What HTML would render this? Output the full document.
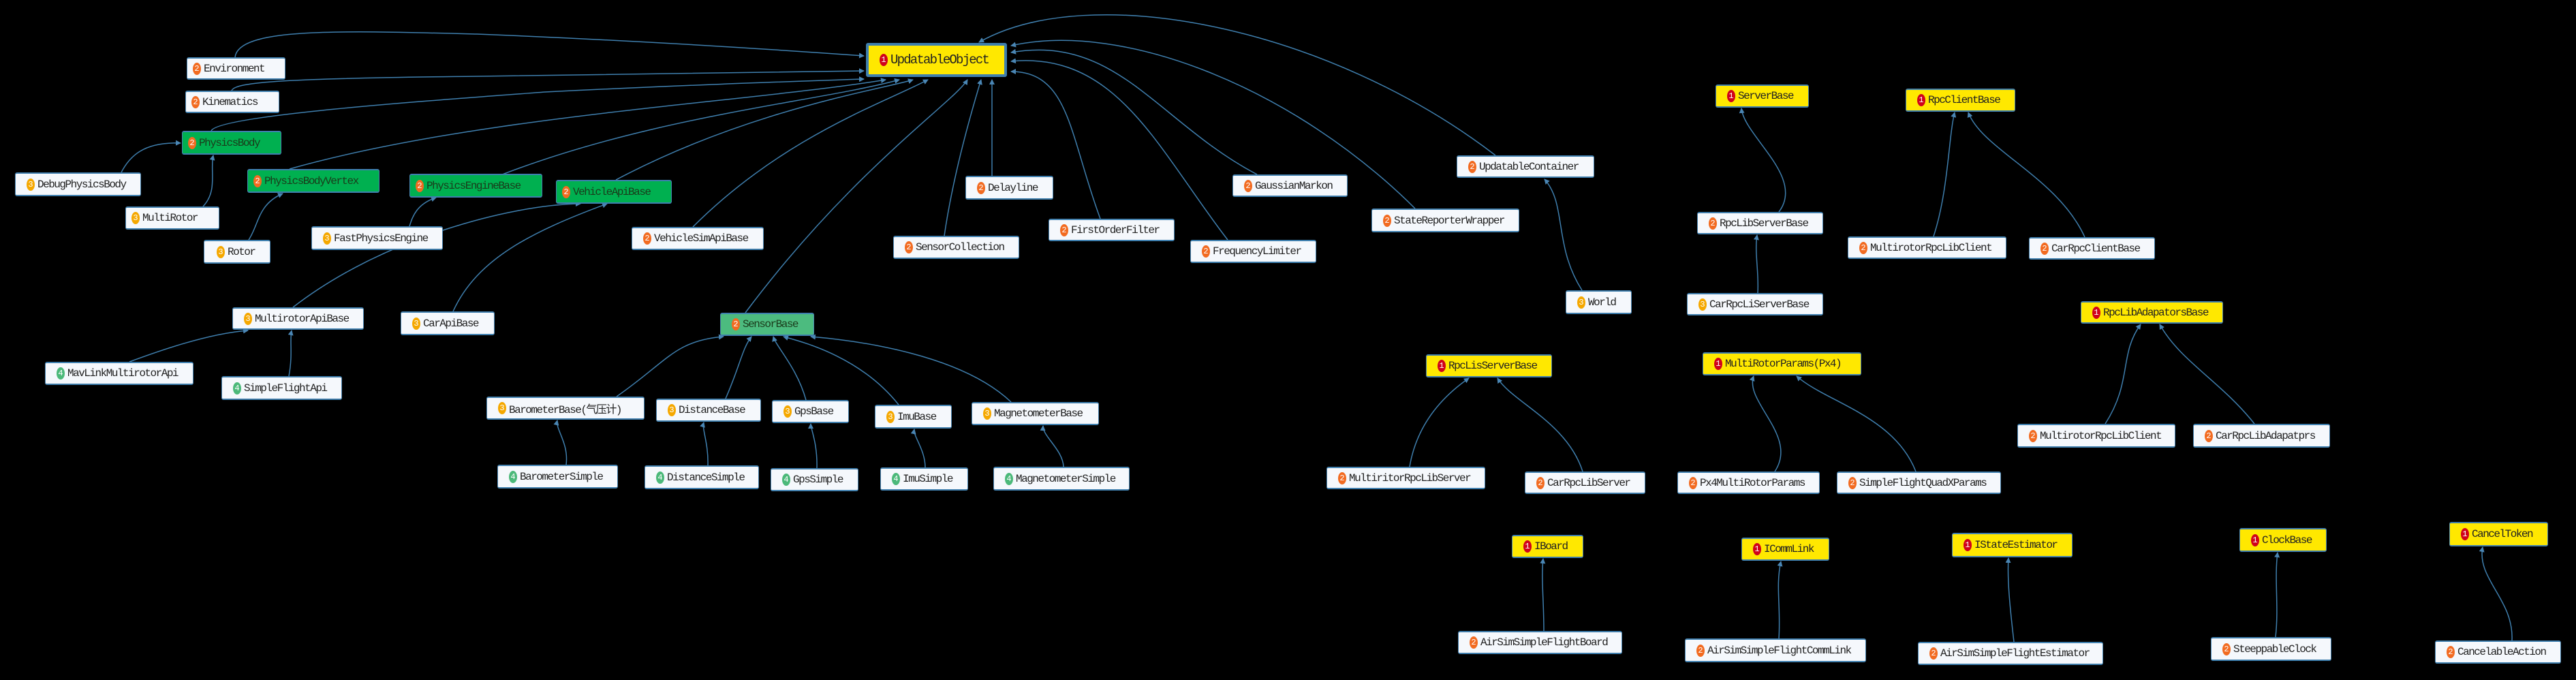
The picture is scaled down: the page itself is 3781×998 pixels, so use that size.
<!DOCTYPE html>
<html><head><meta charset="utf-8"><style>
html,body{margin:0;padding:0;background:#000;width:3781px;height:998px;overflow:hidden;position:relative}
svg{position:absolute;left:0;top:0}
.n{position:absolute;box-sizing:border-box;background:#f5f8fc;border:1px solid #4a86b4;border-bottom:2px solid #3f7fae;border-top:2px solid #3f7fae;border-radius:3px;display:flex;align-items:center;padding-left:8px;font-family:"Liberation Mono","Noto Sans CJK SC",monospace;font-size:16px;color:#222;white-space:nowrap;letter-spacing:-1.5px}
.y{background:#ffe800}
.g{background:#00b050;color:#1a3a1a}
.g2{background:#4cbb7f;color:#1a3a1a}
.b{display:inline-block;width:12px;height:18px;border-radius:50%;color:#fff;font-size:12px;line-height:18px;text-align:center;margin-right:4px;flex:none;letter-spacing:0}
.b1{background:#d0021b}.b2{background:#f26b21}.b3{background:#f5a800}.b4{background:#4cb97a}
</style></head><body>
<svg width="3781" height="998" viewBox="0 0 3781 998">
<defs><marker id="a" markerWidth="8" markerHeight="8" refX="7" refY="4" orient="auto" markerUnits="userSpaceOnUse"><path d="M0,0 L8,4 L0,8 z" fill="#4a86b4"/></marker></defs>
<g fill="none" stroke="#3f7fae" stroke-width="1.5" marker-end="url(#a)">
<path d="M345,84 C350,40 500,45 700,50 C900,58 1100,70 1268,82"/>
<path d="M340,133 C345,120 420,115 700,112 C900,110 1100,108 1268,104"/>
<path d="M310,192 C320,170 600,150 800,135 C1000,125 1150,120 1268,116"/>
<path d="M425,248 C700,170 1100,150 1300,117"/>
<path d="M717,264 C950,170 1200,150 1320,117"/>
<path d="M904,264 C1100,160 1300,130 1340,117"/>
<path d="M1017,333 C1150,200 1300,150 1362,117"/>
<path d="M1094,459 C1250,250 1400,150 1420,117"/>
<path d="M1386,346 C1400,250 1430,150 1440,117"/>
<path d="M1456,258 L1456,117"/>
<path d="M1615,321 C1570,200 1570,105 1484,105"/>
<path d="M1802,352 C1700,220 1640,75 1484,90"/>
<path d="M1845,256 C1700,180 1640,50 1484,77"/>
<path d="M2077,306 C1900,130 1650,30 1484,67"/>
<path d="M2195,228 C1950,40 1600,-30 1437,62"/>
<path d="M2322,426 C2280,360 2300,300 2267,263"/>
<path d="M178,253 C190,230 210,208 265,210"/>
<path d="M298,303 C320,280 308,250 313,228"/>
<path d="M365,352 C380,330 378,300 415,284"/>
<path d="M601,332 C605,320 610,300 640,290"/>
<path d="M430,451 C560,350 750,300 852,299"/>
<path d="M665,457 C700,380 780,340 891,299"/>
<path d="M190,531 C220,520 300,490 364,485"/>
<path d="M424,552 C430,520 425,500 428,485"/>
<path d="M905,582 C980,530 990,500 1062,494"/>
<path d="M1065,585 C1085,540 1090,510 1103,494"/>
<path d="M1183,587 C1170,540 1140,510 1135,494"/>
<path d="M1319,594 C1260,520 1170,500 1150,494"/>
<path d="M1484,590 C1410,520 1260,500 1190,494"/>
<path d="M831,682 C835,650 815,630 818,617"/>
<path d="M1039,683 C1040,650 1030,630 1033,620"/>
<path d="M1199,687 C1200,650 1190,630 1190,622"/>
<path d="M1358,686 C1358,660 1340,640 1342,630"/>
<path d="M1561,685 C1560,660 1530,640 1531,625"/>
<path d="M2611,311 C2650,260 2560,200 2556,159"/>
<path d="M2580,430 C2582,400 2575,370 2579,345"/>
<path d="M2838,347 C2860,280 2860,200 2869,165"/>
<path d="M3060,348 C3020,260 2910,220 2889,165"/>
<path d="M2069,685 C2080,620 2120,580 2156,555"/>
<path d="M2323,692 C2300,620 2220,590 2198,555"/>
<path d="M2605,692 C2640,640 2560,590 2574,552"/>
<path d="M2812,692 C2780,610 2680,590 2637,552"/>
<path d="M3090,622 C3130,560 3110,520 3142,476"/>
<path d="M3309,622 C3260,560 3200,530 3170,476"/>
<path d="M2266,926 C2266,880 2262,850 2265,820"/>
<path d="M2611,937 C2614,890 2606,860 2614,824"/>
<path d="M2956,942 C2950,890 2946,850 2948,819"/>
<path d="M3340,935 C3345,890 3338,850 3343,811"/>
<path d="M3687,940 C3690,880 3635,850 3644,803"/>
</g>
</svg>
<div class="n y" style="left:1271px;top:63px;width:207px;height:50px;border:4px solid #3f7fae;font-size:19px;letter-spacing:-1.8px;padding-left:16px"><span class="b b1">1</span>UpdatableObject</div>
<div class="n" style="left:274px;top:84px;width:145px;height:33px"><span class="b b2">2</span>Environment</div>
<div class="n" style="left:272px;top:133px;width:138px;height:33px"><span class="b b2">2</span>Kinematics</div>
<div class="n g" style="left:267px;top:192px;width:146px;height:35px"><span class="b b2">2</span>PhysicsBody</div>
<div class="n" style="left:22px;top:253px;width:185px;height:35px;padding-left:16px"><span class="b b3">3</span>DebugPhysicsBody</div>
<div class="n g" style="left:363px;top:248px;width:194px;height:35px"><span class="b b2">2</span>PhysicsBodyVertex</div>
<div class="n" style="left:184px;top:303px;width:138px;height:34px"><span class="b b3">3</span>MultiRotor</div>
<div class="n g" style="left:601px;top:255px;width:195px;height:35px"><span class="b b2">2</span>PhysicsEngineBase</div>
<div class="n g" style="left:816px;top:264px;width:170px;height:35px"><span class="b b2">2</span>VehicleApiBase</div>
<div class="n" style="left:299px;top:352px;width:98px;height:35px;padding-left:18px"><span class="b b3">3</span>Rotor</div>
<div class="n" style="left:457px;top:332px;width:193px;height:35px;padding-left:16px"><span class="b b3">3</span>FastPhysicsEngine</div>
<div class="n" style="left:927px;top:333px;width:194px;height:34px;padding-left:16px"><span class="b b2">2</span>VehicleSimApiBase</div>
<div class="n" style="left:341px;top:451px;width:193px;height:33px;padding-left:16px"><span class="b b3">3</span>MultirotorApiBase</div>
<div class="n" style="left:588px;top:457px;width:138px;height:35px;padding-left:16px"><span class="b b3">3</span>CarApiBase</div>
<div class="n g2" style="left:1057px;top:459px;width:138px;height:34px;padding-left:16px"><span class="b b2">2</span>SensorBase</div>
<div class="n" style="left:66px;top:531px;width:218px;height:34px;padding-left:16px"><span class="b b4">4</span>MavLinkMultirotorApi</div>
<div class="n" style="left:325px;top:552px;width:177px;height:35px;padding-left:16px"><span class="b b4">4</span>SimpleFlightApi</div>
<div class="n" style="left:714px;top:582px;width:232px;height:34px;padding-left:16px"><span class="b b3">3</span>BarometerBase(气压计)</div>
<div class="n" style="left:963px;top:585px;width:154px;height:34px;padding-left:16px"><span class="b b3">3</span>DistanceBase</div>
<div class="n" style="left:1133px;top:587px;width:113px;height:34px;padding-left:16px"><span class="b b3">3</span>GpsBase</div>
<div class="n" style="left:1284px;top:594px;width:113px;height:35px;padding-left:16px"><span class="b b3">3</span>ImuBase</div>
<div class="n" style="left:1426px;top:590px;width:187px;height:34px;padding-left:16px"><span class="b b3">3</span>MagnetometerBase</div>
<div class="n" style="left:730px;top:682px;width:177px;height:35px;padding-left:16px"><span class="b b4">4</span>BarometerSimple</div>
<div class="n" style="left:946px;top:683px;width:168px;height:35px;padding-left:16px"><span class="b b4">4</span>DistanceSimple</div>
<div class="n" style="left:1131px;top:687px;width:129px;height:34px;padding-left:16px"><span class="b b4">4</span>GpsSimple</div>
<div class="n" style="left:1292px;top:686px;width:129px;height:34px;padding-left:16px"><span class="b b4">4</span>ImuSimple</div>
<div class="n" style="left:1458px;top:685px;width:200px;height:35px;padding-left:16px"><span class="b b4">4</span>MagnetometerSimple</div>
<div class="n" style="left:1417px;top:258px;width:129px;height:35px;padding-left:16px"><span class="b b2">2</span>Delayline</div>
<div class="n" style="left:1311px;top:346px;width:185px;height:34px;padding-left:16px"><span class="b b2">2</span>SensorCollection</div>
<div class="n" style="left:1539px;top:321px;width:185px;height:33px;padding-left:16px"><span class="b b2">2</span>FirstOrderFilter</div>
<div class="n" style="left:1747px;top:352px;width:185px;height:34px;padding-left:16px"><span class="b b2">2</span>FrequencyLimiter</div>
<div class="n" style="left:1809px;top:256px;width:169px;height:33px;padding-left:16px"><span class="b b2">2</span>GaussianMarkon</div>
<div class="n" style="left:2013px;top:306px;width:217px;height:35px;padding-left:16px"><span class="b b2">2</span>StateReporterWrapper</div>
<div class="n" style="left:2138px;top:228px;width:202px;height:33px;padding-left:16px"><span class="b b2">2</span>UpdatableContainer</div>
<div class="n" style="left:2298px;top:426px;width:97px;height:35px;padding-left:16px"><span class="b b3">3</span>World</div>
<div class="n y" style="left:2518px;top:124px;width:137px;height:34px;padding-left:16px"><span class="b b1">1</span>ServerBase</div>
<div class="n y" style="left:2797px;top:130px;width:161px;height:34px;padding-left:16px"><span class="b b1">1</span>RpcClientBase</div>
<div class="n" style="left:2491px;top:311px;width:185px;height:33px;padding-left:16px"><span class="b b2">2</span>RpcLibServerBase</div>
<div class="n" style="left:2712px;top:347px;width:233px;height:33px;padding-left:16px"><span class="b b2">2</span>MultirotorRpcLibClient</div>
<div class="n" style="left:2978px;top:348px;width:185px;height:33px;padding-left:16px"><span class="b b2">2</span>CarRpcClientBase</div>
<div class="n" style="left:2476px;top:430px;width:200px;height:33px;padding-left:16px"><span class="b b3">3</span>CarRpcLiServerBase</div>
<div class="n y" style="left:3054px;top:442px;width:209px;height:33px;padding-left:16px"><span class="b b1">1</span>RpcLibAdapatorsBase</div>
<div class="n y" style="left:2093px;top:520px;width:185px;height:34px;padding-left:16px"><span class="b b1">1</span>RpcLisServerBase</div>
<div class="n y" style="left:2499px;top:517px;width:233px;height:34px;padding-left:16px"><span class="b b1">1</span>MultiRotorParams(Px4)</div>
<div class="n" style="left:1947px;top:685px;width:233px;height:33px;padding-left:16px"><span class="b b2">2</span>MultiritorRpcLibServer</div>
<div class="n" style="left:2238px;top:692px;width:177px;height:33px;padding-left:16px"><span class="b b2">2</span>CarRpcLibServer</div>
<div class="n" style="left:2462px;top:692px;width:209px;height:33px;padding-left:16px"><span class="b b2">2</span>Px4MultiRotorParams</div>
<div class="n" style="left:2696px;top:692px;width:241px;height:33px;padding-left:16px"><span class="b b2">2</span>SimpleFlightQuadXParams</div>
<div class="n" style="left:2961px;top:622px;width:232px;height:35px;padding-left:16px"><span class="b b2">2</span>MultirotorRpcLibClient</div>
<div class="n" style="left:3219px;top:622px;width:201px;height:35px;padding-left:16px"><span class="b b2">2</span>CarRpcLibAdapatprs</div>
<div class="n y" style="left:2219px;top:785px;width:105px;height:34px;padding-left:16px"><span class="b b1">1</span>IBoard</div>
<div class="n y" style="left:2556px;top:789px;width:129px;height:34px;padding-left:16px"><span class="b b1">1</span>ICommLink</div>
<div class="n y" style="left:2865px;top:782px;width:177px;height:36px;padding-left:16px"><span class="b b1">1</span>IStateEstimator</div>
<div class="n y" style="left:3287px;top:775px;width:128px;height:35px;padding-left:16px"><span class="b b1">1</span>ClockBase</div>
<div class="n y" style="left:3595px;top:766px;width:145px;height:36px;padding-left:16px"><span class="b b1">1</span>CancelToken</div>
<div class="n" style="left:2140px;top:926px;width:241px;height:34px;padding-left:16px"><span class="b b2">2</span>AirSimSimpleFlightBoard</div>
<div class="n" style="left:2473px;top:937px;width:266px;height:35px;padding-left:16px"><span class="b b2">2</span>AirSimSimpleFlightCommLink</div>
<div class="n" style="left:2815px;top:942px;width:272px;height:34px;padding-left:16px"><span class="b b2">2</span>AirSimSimpleFlightEstimator</div>
<div class="n" style="left:3245px;top:935px;width:177px;height:35px;padding-left:16px"><span class="b b2">2</span>SteeppableClock</div>
<div class="n" style="left:3574px;top:940px;width:185px;height:34px;padding-left:16px"><span class="b b2">2</span>CancelableAction</div>
</body></html>
